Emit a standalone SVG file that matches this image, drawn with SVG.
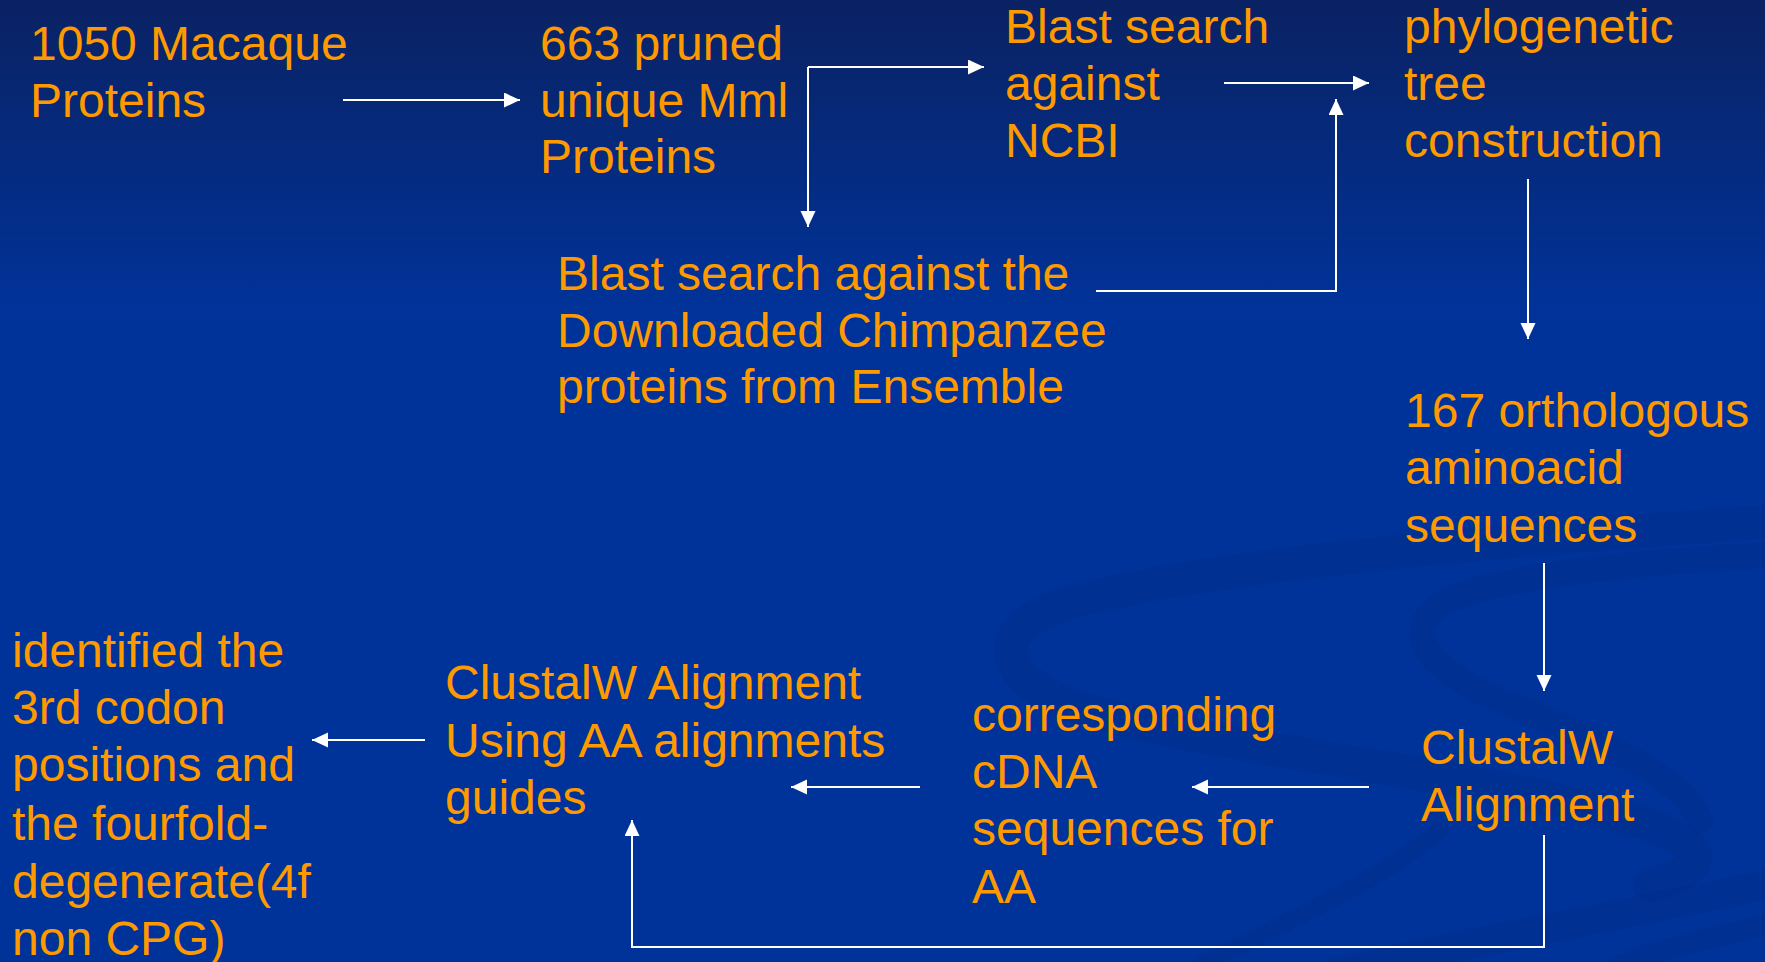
<svg xmlns="http://www.w3.org/2000/svg" width="1765" height="962" viewBox="0 0 1765 962">
<defs>
<linearGradient id="bg" x1="0" y1="0" x2="0" y2="1">
<stop offset="0" stop-color="#0a2263"/>
<stop offset="0.33" stop-color="#00339a"/>
<stop offset="1" stop-color="#003399"/>
</linearGradient>
<marker id="ah" markerUnits="userSpaceOnUse" markerWidth="17" markerHeight="16" refX="16" refY="7.5" orient="auto">
<path d="M0,0 L16,7.5 L0,15 z" fill="#ffffff"/>
</marker>
<style>
.t{font-family:"Liberation Sans",Arial,sans-serif;font-size:48px;fill:#ff9900}
.c{fill:none;stroke:#ffffff;stroke-width:2;marker-end:url(#ah)}
.sw{fill:none;stroke:#002c86;stroke-opacity:0.35;stroke-linecap:round}
</style>
</defs>
<rect width="1765" height="962" fill="url(#bg)"/>
<g id="swirls">
<path class="sw" stroke-width="34" d="M1765,522 C1500,540 1200,565 1060,605 C990,630 995,675 1070,705 C1200,745 1400,765 1560,800 C1690,830 1740,860 1650,885"/>
<path class="sw" stroke-width="26" d="M1765,555 C1600,565 1480,580 1440,605 C1400,635 1430,670 1500,700 C1580,735 1680,770 1700,820"/>
<path class="sw" stroke-width="30" d="M1765,885 C1600,920 1450,945 1330,975"/>
<path class="sw" stroke-width="22" d="M1765,925 C1700,940 1650,952 1610,970"/>
<path class="sw" stroke-width="18" d="M1440,830 C1380,880 1300,915 1180,975"/>
</g>
<g id="connectors">
<path class="c" d="M343,100 H520"/>
<path class="c" d="M808,67 V227"/>
<path class="c" d="M808,67 H984"/>
<path class="c" d="M1224,83 H1369"/>
<path class="c" d="M1096,291 H1336 V99"/>
<path class="c" d="M1528,179 V339"/>
<path class="c" d="M1544,563 V691"/>
<path class="c" d="M1369,787 H1192"/>
<path class="c" d="M920,787 H791"/>
<path class="c" d="M425,740 H312"/>
<path class="c" d="M1544,835 V947 H632 V820"/>
</g>
<g id="n1"><text class="t" x="30" y="60">1050 Macaque</text><text class="t" x="30" y="117">Proteins</text></g>
<g id="n2"><text class="t" x="540" y="60">663 pruned</text><text class="t" x="540" y="117">unique Mml</text><text class="t" x="540" y="173">Proteins</text></g>
<g id="n3"><text class="t" x="1005" y="43">Blast search</text><text class="t" x="1005" y="100">against</text><text class="t" x="1005" y="157">NCBI</text></g>
<g id="n4"><text class="t" x="1404" y="43">phylogenetic</text><text class="t" x="1404" y="100">tree</text><text class="t" x="1404" y="157">construction</text></g>
<g id="n5"><text class="t" x="557" y="290">Blast search against the</text><text class="t" x="557" y="347">Downloaded Chimpanzee</text><text class="t" x="557" y="403">proteins from Ensemble</text></g>
<g id="n6"><text class="t" x="1405" y="427">167 orthologous</text><text class="t" x="1405" y="484">aminoacid</text><text class="t" x="1405" y="542">sequences</text></g>
<g id="n7"><text class="t" x="1421" y="764">ClustalW</text><text class="t" x="1421" y="821">Alignment</text></g>
<g id="n8"><text class="t" x="972" y="731">corresponding</text><text class="t" x="972" y="788">cDNA</text><text class="t" x="972" y="845">sequences for</text><text class="t" x="972" y="903">AA</text></g>
<g id="n9"><text class="t" x="445" y="699">ClustalW Alignment</text><text class="t" x="445" y="757">Using AA alignments</text><text class="t" x="445" y="814">guides</text></g>
<g id="n10"><text class="t" x="12" y="667">identified the</text><text class="t" x="12" y="724">3rd codon</text><text class="t" x="12" y="781">positions and</text><text class="t" x="12" y="840">the fourfold-</text><text class="t" x="12" y="898">degenerate(4f</text><text class="t" x="12" y="955">non CPG)</text></g>
</svg>
